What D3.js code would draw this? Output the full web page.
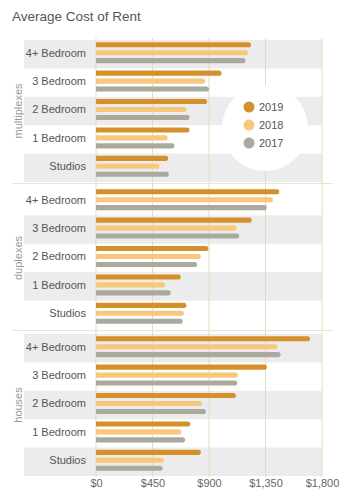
<!DOCTYPE html>
<html lang="en">
<head>
    <meta charset="UTF-8">
    <title>Average Cost of Rent</title>
    <style>
        body { margin: 0; background: #fff; }
        text { font-family: "Liberation Sans", Arial, sans-serif; }
    </style>
</head>
<body>
<svg height="497" width="351"></svg>

<script src="https://d3js.org/d3.v7.min.js"></script>
<script>

    // data
    var groups = ["multiplexes", "duplexes", "houses"];
    var rooms = ["4+ Bedroom", "3 Bedroom", "2 Bedroom", "1 Bedroom", "Studios"];
    var years = ["2019", "2018", "2017"];
    var yearColors = ["#d4912b", "#f7c87c", "#a9a99e"];
    var tickValues = [0, 450, 900, 1350, 1800];

    // one array per group, rows in room order, values in year order
    var multiplexes = [[1235, 1210, 1190], [1000, 870, 900], [885, 720, 745], [745, 570, 625], [575, 505, 580]];
    var duplexes = [[1460, 1410, 1360], [1240, 1120, 1140], [895, 835, 805], [675, 550, 595], [720, 700, 690]];
    var houses = [[1705, 1445, 1470], [1360, 1130, 1125], [1115, 845, 875], [750, 680, 710], [835, 540, 530]];
    var groupValues = [multiplexes, duplexes, houses];

    var svg = d3.select("svg");

    var x0 = 96, x1 = 322;
    var costToX = d3.scaleLinear().domain([0, 1800]).range([x0, x1]);

    var groupTop = 40, groupStep = 147, rowH = 28.4;
    var groupToY = d3.scaleOrdinal().domain(groups).range(groups.map(function(g, i) { return groupTop + i * groupStep; }));
    var roomToY = d3.scaleBand().domain(rooms).range([0, rowH * rooms.length]);
    var yearToY = d3.scaleBand().domain(years).range([2.2, 23.2]).paddingInner(0.36);
    var yearToColor = d3.scaleOrdinal().domain(years).range(yearColors);

    svg.append("text")
        .attr("x", 12).attr("y", 21)
        .style("font-size", "13.5px").style("fill", "#555")
        .text("Average Cost of Rent");

    // background bands, alternating across the whole chart
    var rowIndex = 0;
    groups.forEach(function(g) {
        rooms.forEach(function(r) {
            if (rowIndex % 2 == 0) {
                svg.append("rect")
                    .attr("x", 24).attr("width", x1 - 24)
                    .attr("y", groupToY(g) + roomToY(r))
                    .attr("height", roomToY.bandwidth())
                    .style("fill", "#ececec");
            }
            rowIndex++;
        });
    });

    // grid lines
    svg.selectAll(".grid")
        .data(tickValues)
        .enter().append("line")
        .attr("x1", function(d) { return costToX(d); })
        .attr("x2", function(d) { return costToX(d); })
        .attr("y1", 38).attr("y2", 477)
        .style("stroke", "#ead9bb").style("stroke-width", 1);

    // separators between groups
    [183.5, 330.5].forEach(function(y) {
        svg.append("line")
            .attr("x1", 12).attr("x2", 333)
            .attr("y1", y).attr("y2", y)
            .style("stroke", "#ece2cf").style("stroke-width", 1);
    });

    function barPath(w, h) {
        var r = h / 2;
        if (w < r) r = w;
        return "M0,0H" + (w - r) + "A" + r + "," + r + " 0 0 1 " + (w - r) + "," + h + "H0Z";
    }

    groups.forEach(function(g, gi) {
        var gEl = svg.append("g").attr("transform", "translate(0," + groupToY(g) + ")");

        gEl.append("text")
            .attr("transform", "translate(22," + (rowH * rooms.length / 2) + ") rotate(-90)")
            .attr("text-anchor", "middle")
            .style("font-size", "11px").style("fill", "#999")
            .text(g);

        rooms.forEach(function(r, ri) {
            var row = gEl.append("g").attr("transform", "translate(0," + roomToY(r) + ")");

            row.append("text")
                .attr("x", 86).attr("y", yearToY("2018") + yearToY.bandwidth() / 2)
                .attr("dy", "0.35em")
                .attr("text-anchor", "end")
                .style("font-size", "11px").style("fill", "#555")
                .text(r);

            row.selectAll("path")
                .data(groupValues[gi][ri])
                .enter().append("path")
                .attr("transform", function(d, i) { return "translate(" + x0 + "," + yearToY(years[i]) + ")"; })
                .attr("d", function(d) { return barPath(costToX(d) - x0, yearToY.bandwidth()); })
                .style("fill", function(d, i) { return yearToColor(years[i]); });
        });
    });

    // legend
    var legend = svg.append("g").attr("transform", "translate(265,128)");
    legend.append("circle").attr("r", 43).style("fill", "#fff");
    legend.selectAll(".item")
        .data(years)
        .enter().append("circle")
        .attr("cx", -16)
        .attr("cy", function(d, i) { return -21 + i * 18; })
        .attr("r", 5.5)
        .style("fill", function(d) { return yearToColor(d); });
    legend.selectAll(".label")
        .data(years)
        .enter().append("text")
        .attr("x", -6)
        .attr("y", function(d, i) { return -21 + i * 18; })
        .attr("dy", "0.35em")
        .style("font-size", "11px").style("fill", "#555")
        .text(function(d) { return d; });

    // x axis
    var costAxis = d3.axisBottom(costToX)
        .tickValues(tickValues)
        .tickSize(0)
        .tickPadding(0)
        .tickFormat(function(d) { return "$" + d3.format(",")(d); });

    var axisG = svg.append("g")
        .attr("transform", "translate(0,479)")
        .call(costAxis);
    axisG.select(".domain").remove();
    axisG.selectAll("text")
        .style("font-family", "'Liberation Sans', Arial, sans-serif")
        .style("font-size", "11px").style("fill", "#666");
</script>
</body>
</html>
